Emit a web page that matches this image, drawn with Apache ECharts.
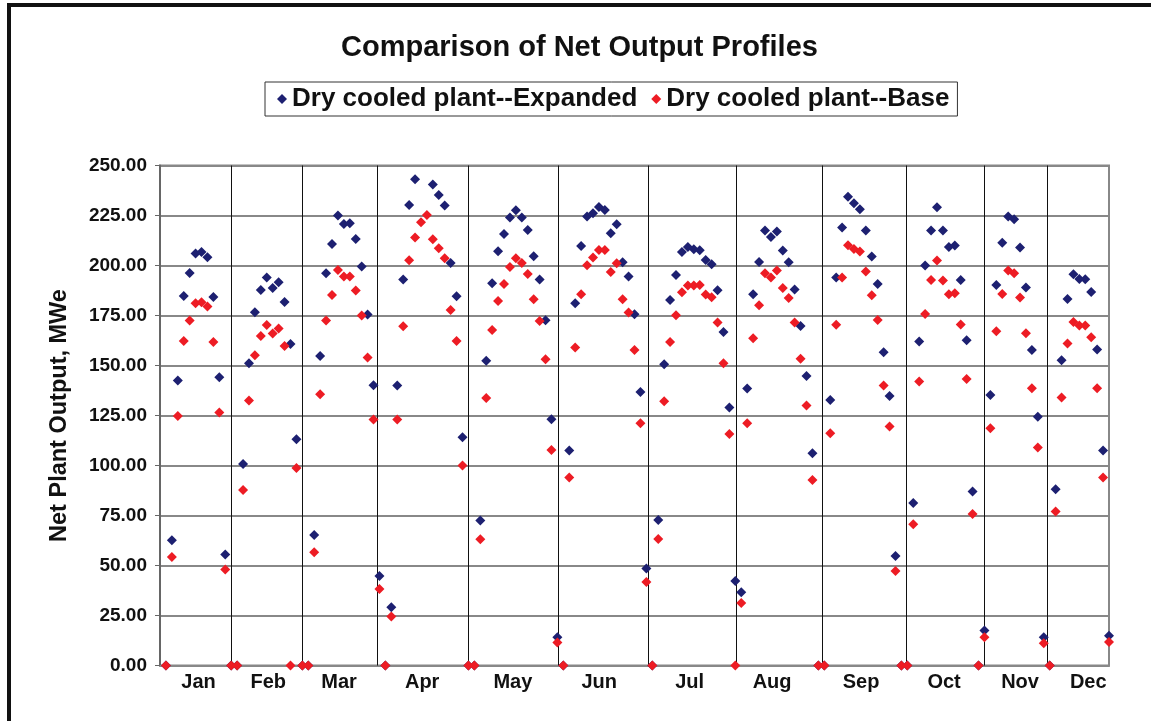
<!DOCTYPE html>
<html>
<head>
<meta charset="utf-8">
<script src="https://cdn.jsdelivr.net/npm/echarts@6/dist/echarts.min.js"></script>
<style>
html, body { margin: 0; padding: 0; background: #fff; }
#chartArea { width: 1151px; height: 721px; }
</style>
</head>
<body>
<div id="chartArea"></div>
<script>
var months = ['Jan', 'Feb', 'Mar', 'Apr', 'May', 'Jun', 'Jul', 'Aug', 'Sep', 'Oct', 'Nov', 'Dec'];
// where each month name sits and where the month divider lines fall (in point index units)
var monthLabelAt = [6.5, 18.25, 30.2, 44.2, 59.5, 74.05, 89.3, 103.2, 118.2, 132.2, 145, 156.5];
var monthBreaks = [12, 23.9, 36.55, 51.95, 67.2, 82.25, 97.15, 111.7, 125.8, 138.95, 149.6];

// net output, MWe, one value per point (points 1..160)
var expanded = [
    0, 62.6, 142.5, 184.8, 196.3, 206, 206.8, 204.1, 184.3, 144.1, 55.5, 0,            // Jan
    0, 100.7, 151.1, 176.6, 187.8, 194, 188.8, 191.6, 181.8, 160.8, 113.1, 0,          // Feb
    0, 65.3, 154.8, 196.1, 210.8, 225, 220.8, 221.1, 213.3, 199.5, 175.5, 140.1,       // Mar
    44.8, 0, 29.1, 140, 193, 230.3, 243.1, 251.5, 253, 240.5, 235.3, 230, 201.3, 184.6, 114.1, // Apr
    0, 0, 72.5, 152.4, 191.1, 207.1, 215.8, 224, 227.6, 224, 217.8, 204.6, 193, 172.6, 123.1, // May
    14.1, 0, 107.5, 181.1, 209.8, 224.5, 226.1, 229.3, 227.8, 216.1, 220.6, 201.6, 194.5, 175.6, 136.8, // Jun
    48.5, 0, 72.8, 150.6, 182.8, 195.3, 206.8, 209.3, 208.1, 207.6, 202.8, 200.6, 187.6, 166.8, 129, // Jul
    42.3, 36.6, 138.5, 185.6, 201.8, 217.5, 214.3, 217, 207.5, 201.6, 188, 169.8, 144.8, 106.1, 0, // Aug
    0, 132.8, 194, 219, 234.4, 231.1, 228.1, 217.5, 204.5, 190.8, 156.6, 134.8, 54.8, 0, // Sep
    0, 81.3, 162, 200, 217.5, 229.1, 217.5, 209.3, 210, 192.8, 162.6, 87, 0,           // Oct
    17.5, 135.3, 190.3, 211.4, 224.5, 223.1, 209, 189, 157.8, 124.4, 14.1,              // Nov
    0, 88.1, 152.6, 183.3, 195.6, 193.3, 193.1, 186.8, 158, 107.5, 14.9                 // Dec
];
var base = [
    0, 54.3, 124.8, 162.3, 172.5, 181.1, 181.6, 179.5, 161.8, 126.5, 48, 0,
    0, 87.8, 132.5, 155.1, 164.8, 170.3, 166, 168.5, 159.8, 0, 98.8, 0,
    0, 56.6, 135.6, 172.5, 185.3, 197.8, 194.5, 194.5, 187.5, 175, 154, 123,
    38.3, 0, 24.5, 123, 169.6, 202.6, 214, 221.6, 225.3, 213.1, 208.6, 203.6, 177.8, 162.3, 100,
    0, 0, 63.1, 133.8, 167.8, 182.3, 190.8, 199.3, 203.6, 201.3, 195.8, 183.1, 172.3, 153.1, 107.8,
    11.5, 0, 94, 159, 185.6, 200.1, 204, 207.8, 207.8, 196.8, 201.1, 183.1, 176.5, 157.8, 121.1,
    41.8, 0, 63.3, 132.1, 161.8, 175.1, 186.6, 190, 190, 190.3, 185.5, 184.1, 171.5, 151.1, 115.8,
    0, 31.3, 121.1, 163.6, 180.1, 196.1, 194, 197.5, 188.8, 183.8, 171.5, 153.4, 130, 92.8, 0,
    0, 116.1, 170.4, 194, 210.1, 208.3, 207, 197, 185.1, 172.8, 140, 119.5, 47.3, 0,
    0, 70.6, 142, 175.8, 192.8, 202.5, 192.5, 185.6, 186.1, 170.5, 143.3, 75.8, 0,
    14.1, 118.6, 167.1, 185.8, 197.5, 196.1, 184, 166.1, 138.6, 109, 11.1,
    0, 77, 134, 161, 171.8, 170, 170, 164.1, 138.6, 94, 11.8
];

var fontFamily = '"Liberation Sans", Arial, sans-serif';

function toPoints(arr) {
    return arr.map(function(v, i) { return [i + 1, v]; });
}

var myChart = echarts.init(document.getElementById('chartArea'));

var option = {
    animation: false,
    backgroundColor: '#ffffff',
    textStyle: { fontFamily: fontFamily },
    graphic: [{
        type: 'rect',
        shape: { x: 9, y: 5, width: 1300, height: 900 },
        style: { fill: null, stroke: '#111', lineWidth: 4 },
        silent: true
    }],
    title: {
        text: 'Comparison of Net Output Profiles',
        left: 341,
        top: 33,
        padding: 0,
        textStyle: { fontSize: 29, fontWeight: 'bold', color: '#111', fontFamily: fontFamily }
    },
    legend: {
        left: 265,
        top: 82,
        padding: [4, 8, 4, 12],
        itemGap: 14,
        itemWidth: 10,
        itemHeight: 10,
        icon: 'diamond',
        borderColor: '#333',
        borderWidth: 1,
        textStyle: { fontSize: 26, fontWeight: 'bold', color: '#111', fontFamily: fontFamily },
        data: ['Dry cooled plant--Expanded', 'Dry cooled plant--Base']
    },
    grid: {
        left: 160,
        right: 42,
        top: 165.5,
        bottom: 55.5,
        show: true,
        borderColor: '#888',
        borderWidth: 2
    },
    xAxis: {
        type: 'value',
        min: 0,
        max: 160,
        axisLine: { show: true, lineStyle: { color: '#888', width: 2 } },
        axisTick: { show: false },
        splitLine: { show: false },
        axisLabel: {
            customValues: monthLabelAt,
            margin: 7,
            fontSize: 20,
            fontWeight: 'bold',
            color: '#111',
            fontFamily: fontFamily,
            formatter: function(v) {
                var i = monthLabelAt.indexOf(v);
                return i >= 0 ? months[i] : '';
            }
        }
    },
    yAxis: {
        type: 'value',
        min: 0,
        max: 250,
        interval: 25,
        name: 'Net Plant Output, MWe',
        nameLocation: 'middle',
        nameGap: 88,
        nameTextStyle: { fontSize: 23.5, fontWeight: 'bold', color: '#111', fontFamily: fontFamily },
        axisLine: { show: true, lineStyle: { color: '#666', width: 2 } },
        axisTick: { show: true, inside: false, length: 5, lineStyle: { color: '#666', width: 1 } },
        splitLine: { show: true, lineStyle: { color: '#888', width: 2 } },
        axisLabel: {
            margin: 13,
            fontSize: 19,
            fontWeight: 'bold',
            color: '#111',
            fontFamily: fontFamily,
            formatter: function(v) { return v.toFixed(2); }
        }
    },
    series: [{
        name: 'Dry cooled plant--Expanded',
        type: 'scatter',
        symbol: 'diamond',
        symbolSize: 10,
        clip: true,
        itemStyle: { color: '#1d2071', opacity: 1 },
        data: toPoints(expanded),
        markLine: {
            silent: true,
            z: 1,
            symbol: 'none',
            label: { show: false },
            lineStyle: { color: '#111', width: 1, type: 'solid' },
            data: monthBreaks.map(function(b) { return { xAxis: b }; })
        }
    }, {
        name: 'Dry cooled plant--Base',
        type: 'scatter',
        symbol: 'diamond',
        symbolSize: 10,
        clip: true,
        itemStyle: { color: '#ed1c24', opacity: 1 },
        data: toPoints(base)
    }]
};

myChart.setOption(option);
</script>
</body>
</html>
